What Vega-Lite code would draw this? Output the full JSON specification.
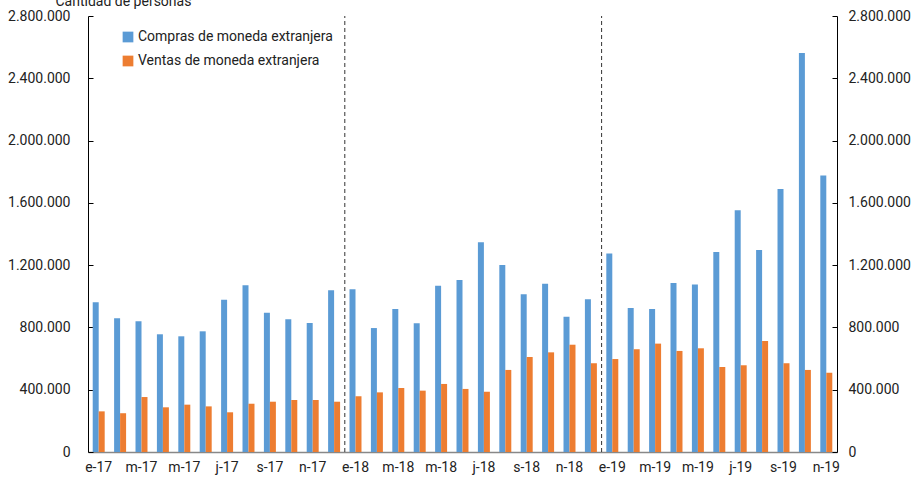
{
  "$schema": "https://vega.github.io/schema/vega-lite/v6.json",
  "width": 749,
  "height": 436,
  "autosize": "none",
  "padding": {"left": 88, "top": 16, "right": 78, "bottom": 28},
  "background": "white",
  "config": {
    "font": "Roboto",
    "view": {"stroke": null},
    "axis": {"labelFontSize": 14, "labelColor": "#222", "titleFontSize": 14, "titleFontWeight": "normal", "titleColor": "#222", "grid": false}
  },
  "datasets": {
    "meses": [
      {"mes": "2017-01", "Compras de moneda extranjera": 961000, "Ventas de moneda extranjera": 261000},
      {"mes": "2017-02", "Compras de moneda extranjera": 859000, "Ventas de moneda extranjera": 249000},
      {"mes": "2017-03", "Compras de moneda extranjera": 839000, "Ventas de moneda extranjera": 353000},
      {"mes": "2017-04", "Compras de moneda extranjera": 756000, "Ventas de moneda extranjera": 287000},
      {"mes": "2017-05", "Compras de moneda extranjera": 743000, "Ventas de moneda extranjera": 304000},
      {"mes": "2017-06", "Compras de moneda extranjera": 775000, "Ventas de moneda extranjera": 293000},
      {"mes": "2017-07", "Compras de moneda extranjera": 978000, "Ventas de moneda extranjera": 255000},
      {"mes": "2017-08", "Compras de moneda extranjera": 1071000, "Ventas de moneda extranjera": 310000},
      {"mes": "2017-09", "Compras de moneda extranjera": 895000, "Ventas de moneda extranjera": 323000},
      {"mes": "2017-10", "Compras de moneda extranjera": 852000, "Ventas de moneda extranjera": 334000},
      {"mes": "2017-11", "Compras de moneda extranjera": 829000, "Ventas de moneda extranjera": 334000},
      {"mes": "2017-12", "Compras de moneda extranjera": 1038000, "Ventas de moneda extranjera": 323000},
      {"mes": "2018-01", "Compras de moneda extranjera": 1045000, "Ventas de moneda extranjera": 358000},
      {"mes": "2018-02", "Compras de moneda extranjera": 796000, "Ventas de moneda extranjera": 383000},
      {"mes": "2018-03", "Compras de moneda extranjera": 918000, "Ventas de moneda extranjera": 411000},
      {"mes": "2018-04", "Compras de moneda extranjera": 827000, "Ventas de moneda extranjera": 394000},
      {"mes": "2018-05", "Compras de moneda extranjera": 1068000, "Ventas de moneda extranjera": 437000},
      {"mes": "2018-06", "Compras de moneda extranjera": 1105000, "Ventas de moneda extranjera": 405000},
      {"mes": "2018-07", "Compras de moneda extranjera": 1347000, "Ventas de moneda extranjera": 387000},
      {"mes": "2018-08", "Compras de moneda extranjera": 1201000, "Ventas de moneda extranjera": 527000},
      {"mes": "2018-09", "Compras de moneda extranjera": 1013000, "Ventas de moneda extranjera": 610000},
      {"mes": "2018-10", "Compras de moneda extranjera": 1081000, "Ventas de moneda extranjera": 640000},
      {"mes": "2018-11", "Compras de moneda extranjera": 869000, "Ventas de moneda extranjera": 689000},
      {"mes": "2018-12", "Compras de moneda extranjera": 981000, "Ventas de moneda extranjera": 570000},
      {"mes": "2019-01", "Compras de moneda extranjera": 1274000, "Ventas de moneda extranjera": 597000},
      {"mes": "2019-02", "Compras de moneda extranjera": 925000, "Ventas de moneda extranjera": 660000},
      {"mes": "2019-03", "Compras de moneda extranjera": 918000, "Ventas de moneda extranjera": 696000},
      {"mes": "2019-04", "Compras de moneda extranjera": 1085000, "Ventas de moneda extranjera": 649000},
      {"mes": "2019-05", "Compras de moneda extranjera": 1075000, "Ventas de moneda extranjera": 666000},
      {"mes": "2019-06", "Compras de moneda extranjera": 1285000, "Ventas de moneda extranjera": 546000},
      {"mes": "2019-07", "Compras de moneda extranjera": 1552000, "Ventas de moneda extranjera": 557000},
      {"mes": "2019-08", "Compras de moneda extranjera": 1297000, "Ventas de moneda extranjera": 713000},
      {"mes": "2019-09", "Compras de moneda extranjera": 1689000, "Ventas de moneda extranjera": 570000},
      {"mes": "2019-10", "Compras de moneda extranjera": 2563000, "Ventas de moneda extranjera": 527000},
      {"mes": "2019-11", "Compras de moneda extranjera": 1775000, "Ventas de moneda extranjera": 509000}
    ],
    "cortes": [{"mes": "2018-01"}, {"mes": "2019-01"}]
  },
  "layer": [
    {
      "data": {"name": "meses"},
      "transform": [{"fold": ["Compras de moneda extranjera", "Ventas de moneda extranjera"], "as": ["serie", "valor"]}],
      "mark": {"type": "bar"},
      "encoding": {
        "x": {
          "field": "mes", "type": "nominal",
          "scale": {"paddingInner": 0.44, "paddingOuter": 0.22},
          "axis": {
            "title": null, "labelAngle": 0, "ticks": false, "domainColor": "#888", "domainWidth": 1.5, "labelPadding": 8, "labelOverlap": false,
            "labelExpr": "indexof(['01','03','05','07','09','11'], substring(datum.value,5,7)) >= 0 ? ['e','f','m','a','m','j','j','a','s','o','n','d'][toNumber(substring(datum.value,5,7))-1] + '-' + substring(datum.value,2,4) : ''"
          }
        },
        "xOffset": {"field": "serie", "type": "nominal", "sort": ["Compras de moneda extranjera", "Ventas de moneda extranjera"], "scale": {"paddingInner": 0, "paddingOuter": 0}},
        "y": {
          "field": "valor", "type": "quantitative",
          "scale": {"domain": [0, 2800000], "nice": false},
          "axis": {
            "orient": "left", "values": [0, 400000, 800000, 1200000, 1600000, 2000000, 2400000, 2800000],
            "labelExpr": "replace(replace(format(datum.value, ','), ',', '.'), ',', '.')",
            "domainColor": "#000", "tickColor": "#000", "tickSize": -5, "labelPadding": 23,
            "title": "Cantidad de personas", "titleAngle": 0, "titleAlign": "left", "titleBaseline": "alphabetic", "titleX": -33, "titleY": -11
          }
        },
        "color": {
          "field": "serie", "type": "nominal",
          "scale": {"domain": ["Compras de moneda extranjera", "Ventas de moneda extranjera"], "range": ["#5B9BD5", "#ED7D31"]},
          "legend": {
            "title": null, "orient": "none", "legendX": 33, "legendY": 14,
            "symbolType": "square", "symbolSize": 115, "symbolStrokeWidth": 0, "labelFontSize": 14, "labelColor": "#222", "rowPadding": 10, "labelOffset": 3, "labelLimit": 400
          }
        }
      }
    },
    {
      "data": {"name": "cortes"},
      "mark": {"type": "rule", "strokeDash": [4, 3], "color": "#333", "strokeWidth": 1, "xOffset": -4.7},
      "encoding": {
        "x": {"field": "mes", "type": "nominal", "bandPosition": 0},
        "y": {
          "datum": 0, "type": "quantitative",
          "axis": {
            "orient": "right", "values": [0, 400000, 800000, 1200000, 1600000, 2000000, 2400000, 2800000],
            "labelExpr": "replace(replace(format(datum.value, ','), ',', '.'), ',', '.')",
            "domainColor": "#000", "tickColor": "#000", "tickSize": -5, "labelPadding": 16, "title": null
          }
        },
        "y2": {"datum": 2800000}
      }
    }
  ],
  "resolve": {"axis": {"y": "independent"}}
}
